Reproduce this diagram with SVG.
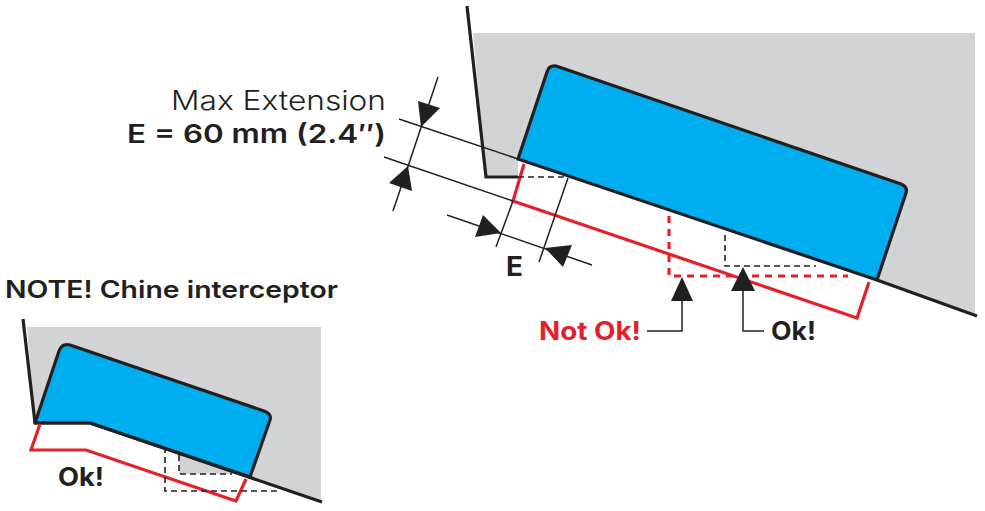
<svg xmlns="http://www.w3.org/2000/svg" width="985" height="511" viewBox="0 0 985 511">
<style>
.hull{fill:none;stroke:#231f20;stroke-width:3.2}
.blue{fill:#00aeef;stroke:#231f20;stroke-width:3.2;stroke-linejoin:round}
.gray{fill:#d1d3d4}
.red{fill:none;stroke:#e6202a;stroke-width:3.2}
.reddash{fill:none;stroke:#e6202a;stroke-width:3.2;stroke-dasharray:7 6}
.dash{fill:none;stroke:#231f20;stroke-width:1.6;stroke-dasharray:6 4}
.thin{fill:none;stroke:#231f20;stroke-width:1.5}
.head{fill:#231f20}
text{font-family:"Inter","Liberation Sans",sans-serif;fill:#231f20}
.b{font-weight:600}
.k{font-weight:700}
</style>
<rect width="985" height="511" fill="#fff"/>
<g id="main-view">
<polygon class="gray" points="473,33 975,33 975,315 518,159 518,177 486,177"/>
<polyline class="hull" points="467,6 486,177 518,177"/>
<path class="blue" d="M518,159 L547,72 Q549,65 556,66 L901,184 Q908,187 906,193 L877,280 Z"/>
<line class="hull" x1="877" y1="280" x2="977" y2="316"/>
<polyline class="red" points="524,164 513,201 857,318 869,282"/>
<polyline class="reddash" points="669,216 669,276 848,276"/>
<polyline class="dash" points="518,177 566,177"/>
<polyline class="dash" points="725,235 725,266 816,266"/>
</g>
<g id="dimensions">
<line class="thin" x1="399" y1="119" x2="518" y2="159"/>
<line class="thin" x1="384" y1="157" x2="513" y2="201"/>
<line class="thin" x1="438" y1="77" x2="393" y2="211"/>
<line class="thin" x1="447" y1="215" x2="592" y2="265"/>
<line class="thin" x1="513" y1="201" x2="496" y2="247"/>
<line class="thin" x1="568" y1="178" x2="539" y2="262"/>
<polygon class="head" points="421,127 418,101 440,108"/>
<polygon class="head" points="408,166 389,183 412,191"/>
<polygon class="head" points="501,233 483,215 475,237"/>
<polygon class="head" points="545,248 572,245 563,267"/>
</g>
<g id="callouts">
<polyline class="thin" points="682,300 682,331 647,331"/>
<polyline class="thin" points="743,290 743,331 764,331"/>
<polygon class="head" points="682,277 671,301 693,301"/>
<polygon class="head" points="743,267 731,291 755,291"/>
</g>
<g id="chine-view">
<polygon class="gray" points="27,327 321,327 321,501 250,477 241,474 179,474 179,455 90,423 35,423"/>
<path class="blue" d="M35,423 L59,351 Q62,343 70,345 L264,411 Q272,414 270,420 L250,477 L90,423 Z"/>
<polyline class="hull" points="23,319 35,423 90,423 322,502"/>
<polyline class="red" points="40,424 31,450 86,450 236,501 246,479"/>
<polyline class="dash" points="179,455 179,474 232,474"/>
<polyline class="dash" points="165,447 165,491 280,491"/>
</g>
<g id="labels">
<text x="386" y="110" text-anchor="end" font-size="27" font-weight="300" textLength="215" lengthAdjust="spacingAndGlyphs">Max Extension</text>
<text x="386" y="143" text-anchor="end" font-size="26" class="b" textLength="259" lengthAdjust="spacingAndGlyphs">E = 60 mm (2.4″)</text>
<text x="506" y="276" font-size="27" class="k" textLength="17" lengthAdjust="spacingAndGlyphs">E</text>
<text x="5" y="298" font-size="24" class="b" textLength="333" lengthAdjust="spacingAndGlyphs">NOTE! Chine interceptor</text>
<text x="539" y="340" font-size="25" class="k" style="fill:#e6202a" textLength="102" lengthAdjust="spacingAndGlyphs">Not Ok!</text>
<text x="771" y="340" font-size="25" class="k" textLength="45" lengthAdjust="spacingAndGlyphs">Ok!</text>
<text x="58" y="486" font-size="25" class="k" textLength="46" lengthAdjust="spacingAndGlyphs">Ok!</text>
</g>
</svg>
